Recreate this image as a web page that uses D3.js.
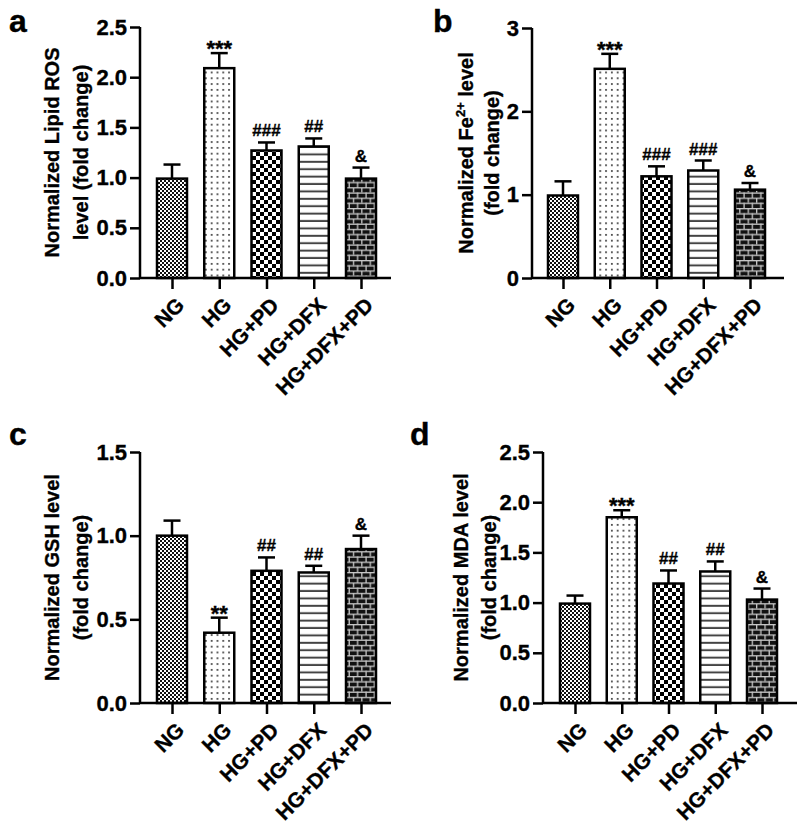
<!DOCTYPE html>
<html>
<head>
<meta charset="utf-8">
<script src="https://cdn.jsdelivr.net/npm/d3@7"></script>
<style>
  body { margin: 0; background: #fff; }
  svg { display: block; }
  text { font-family: "Liberation Sans", Arial, sans-serif; font-weight: bold; fill: #000; stroke: #000; stroke-width: 0.35px; }
</style>
</head>
<body>
<svg id="chart" width="800" height="823"></svg>
<script>
// ---------- data ----------
const categories = ["NG", "HG", "HG+PD", "HG+DFX", "HG+DFX+PD"];

const lipidRosMean = [0.99, 2.09, 1.27, 1.31, 0.99];
const lipidRosErr  = [0.14, 0.15, 0.08, 0.08, 0.11];
const lipidRosSig  = ["", "***", "###", "##", "&"];

const fe2Mean = [0.99, 2.51, 1.22, 1.29, 1.06];
const fe2Err  = [0.17, 0.18, 0.12, 0.12, 0.08];
const fe2Sig  = ["", "***", "###", "###", "&"];

const gshMean = [1.00, 0.42, 0.79, 0.78, 0.92];
const gshErr  = [0.09, 0.09, 0.08, 0.04, 0.08];
const gshSig  = ["", "**", "##", "##", "&"];

const mdaMean = [0.99, 1.85, 1.19, 1.31, 1.03];
const mdaErr  = [0.08, 0.07, 0.13, 0.10, 0.11];
const mdaSig  = ["", "***", "##", "##", "&"];

const ticksA = [0, 0.5, 1.0, 1.5, 2.0, 2.5];
const ticksB = [0, 1, 2, 3];
const ticksC = [0, 0.5, 1.0, 1.5];
const ticksD = [0, 0.5, 1.0, 1.5, 2.0, 2.5];

// ---------- patterns ----------
const svg = d3.select("#chart");
const defs = svg.append("defs");

let p = defs.append("pattern").attr("id", "pNG").attr("patternUnits", "userSpaceOnUse")
  .attr("width", 4).attr("height", 4);
p.append("rect").attr("width", 4).attr("height", 4).attr("fill", "#fff");
p.append("rect").attr("x", 0).attr("y", 0).attr("width", 2).attr("height", 2).attr("fill", "#111");
p.append("rect").attr("x", 2).attr("y", 2).attr("width", 2).attr("height", 2).attr("fill", "#111");

p = defs.append("pattern").attr("id", "pHG").attr("patternUnits", "userSpaceOnUse")
  .attr("width", 5.8).attr("height", 5.8);
p.append("rect").attr("width", 5.8).attr("height", 5.8).attr("fill", "#fff");
p.append("rect").attr("x", 2).attr("y", 2).attr("width", 1.7).attr("height", 1.7).attr("fill", "#333");

p = defs.append("pattern").attr("id", "pPD").attr("patternUnits", "userSpaceOnUse")
  .attr("width", 8).attr("height", 8);
p.append("rect").attr("width", 8).attr("height", 8).attr("fill", "#fff");
p.append("rect").attr("x", 0).attr("y", 0).attr("width", 4).attr("height", 4).attr("fill", "#000");
p.append("rect").attr("x", 4).attr("y", 4).attr("width", 4).attr("height", 4).attr("fill", "#000");

p = defs.append("pattern").attr("id", "pDFX").attr("patternUnits", "userSpaceOnUse")
  .attr("width", 8).attr("height", 7.4);
p.append("rect").attr("width", 8).attr("height", 7.4).attr("fill", "#fff");
p.append("rect").attr("x", 0).attr("y", 5.4).attr("width", 8).attr("height", 2).attr("fill", "#444");

p = defs.append("pattern").attr("id", "pBRK").attr("patternUnits", "userSpaceOnUse")
  .attr("width", 8.4).attr("height", 10.4);
p.append("rect").attr("width", 8.4).attr("height", 10.4).attr("fill", "#111");
p.append("rect").attr("x", 0).attr("y", 0).attr("width", 8.4).attr("height", 1.3).attr("fill", "#c8c8c8");
p.append("rect").attr("x", 0).attr("y", 5.2).attr("width", 8.4).attr("height", 1.3).attr("fill", "#c8c8c8");
p.append("rect").attr("x", 0).attr("y", 0).attr("width", 1.3).attr("height", 5.2).attr("fill", "#c8c8c8");
p.append("rect").attr("x", 4.2).attr("y", 5.2).attr("width", 1.3).attr("height", 5.2).attr("fill", "#c8c8c8");

const fills = ["url(#pNG)", "url(#pHG)", "url(#pPD)", "url(#pDFX)", "url(#pBRK)"];

// ---------- panel drawer ----------
function panel(cfg) {
  const g = svg.append("g");
  const y = d3.scaleLinear().domain([0, cfg.ymax]).range([cfg.y0, cfg.y1]);
  const x = d3.scalePoint().domain(categories).range([cfg.c0, cfg.c1]);
  const bw = 30;
  const data = categories.map((c, i) => ({ c, m: cfg.mean[i], e: cfg.err[i], s: cfg.sig[i], f: fills[i] }));

  const eb = g.append("g").attr("stroke", "#000").attr("stroke-width", 2.5).attr("fill", "none");
  data.forEach(d => {
    eb.append("line").attr("x1", x(d.c)).attr("x2", x(d.c)).attr("y1", y(d.m)).attr("y2", y(d.m + d.e));
    eb.append("line").attr("x1", x(d.c) - 8.5).attr("x2", x(d.c) + 8.5).attr("y1", y(d.m + d.e)).attr("y2", y(d.m + d.e));
  });

  g.selectAll("rect.bar").data(data).join("rect").attr("class", "bar")
    .attr("x", d => x(d.c) - bw / 2).attr("width", bw)
    .attr("y", d => y(d.m)).attr("height", d => y(0) - y(d.m))
    .attr("fill", d => d.f).attr("stroke", "#000").attr("stroke-width", 2.5);

  data.forEach(d => {
    if (!d.s) return;
    const star = d.s.startsWith("*");
    g.append("text").attr("x", x(d.c)).attr("y", y(d.m + d.e) + (star ? 3 : -6))
      .attr("text-anchor", "middle").style("font-size", star ? "22px" : "17px").text(d.s);
  });

  const ya = g.append("g").attr("transform", `translate(${cfg.ax},0)`)
    .call(d3.axisLeft(y).tickValues(cfg.ticks).tickFormat(d3.format(cfg.fmt)).tickSize(10).tickPadding(3));
  ya.selectAll("path, line").attr("stroke", "#000").attr("stroke-width", 2.5);
  ya.select(".domain").attr("d", `M0,${cfg.y1}V${cfg.y0}`);
  ya.selectAll("text").style("font-size", "22px").style("font-family", "Liberation Sans, Arial, sans-serif").style("font-weight", "bold");

  const xa = g.append("g").attr("transform", `translate(0,${cfg.y0})`)
    .call(d3.axisBottom(x).tickSize(11).tickFormat(""));
  xa.selectAll("path, line").attr("stroke", "#000").attr("stroke-width", 2.5);
  xa.select(".domain").attr("d", `M${cfg.ax},0H${cfg.xend}`);
  categories.forEach(c => {
    g.append("text").attr("transform", `translate(${x(c) + 3},${cfg.y0 + 18}) rotate(-45)`)
      .attr("text-anchor", "end").attr("dy", "0.71em").style("font-size", "21px").text(c);
  });

  const mid = (cfg.y0 + cfg.y1) / 2;
  cfg.title.forEach((t, i) => {
    const tx = g.append("text").attr("transform", `translate(${cfg.tx[i]},${mid}) rotate(-90)`)
      .attr("text-anchor", "middle").style("font-size", "20px");
    if (Array.isArray(t)) {
      tx.append("tspan").text(t[0]);
      tx.append("tspan").attr("dy", -8).style("font-size", "13px").text(t[1]);
      tx.append("tspan").attr("dy", 8).text(t[2]);
    } else tx.text(t);
  });

  g.append("text").attr("x", cfg.lx).attr("y", cfg.ly).style("font-size", "32px").text(cfg.letter);
}

panel({ letter: "a", lx: 9, ly: 32, mean: lipidRosMean, err: lipidRosErr, sig: lipidRosSig,
  ymax: 2.5, ticks: ticksA, fmt: ".1f", y0: 278, y1: 27, ax: 140, xend: 391, c0: 172, c1: 361,
  title: ["Normalized Lipid ROS", "level (fold change)"], tx: [59, 88] });

panel({ letter: "b", lx: 433, ly: 32, mean: fe2Mean, err: fe2Err, sig: fe2Sig,
  ymax: 3, ticks: ticksB, fmt: "d", y0: 278, y1: 28, ax: 532, xend: 784, c0: 563, c1: 750,
  title: [["Normalized Fe", "2+", " level"], "(fold change)"], tx: [473, 499] });

panel({ letter: "c", lx: 9, ly: 445, mean: gshMean, err: gshErr, sig: gshSig,
  ymax: 1.5, ticks: ticksC, fmt: ".1f", y0: 703, y1: 452, ax: 140, xend: 391, c0: 172, c1: 361,
  title: ["Normalized GSH level", "(fold change)"], tx: [59, 88] });

panel({ letter: "d", lx: 410, ly: 445, mean: mdaMean, err: mdaErr, sig: mdaSig,
  ymax: 2.5, ticks: ticksD, fmt: ".1f", y0: 703, y1: 452, ax: 543, xend: 797, c0: 575, c1: 762,
  title: ["Normalized MDA level", "(fold change)"], tx: [468, 496] });
</script>
</body>
</html>
